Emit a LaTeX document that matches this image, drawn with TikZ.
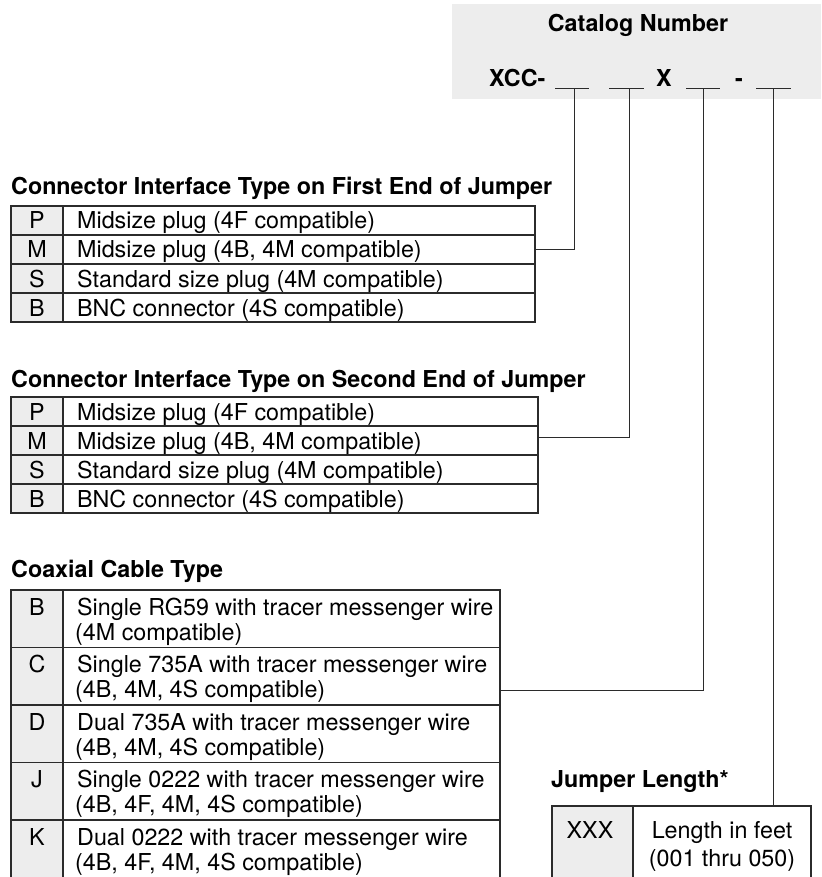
\documentclass[tikz,border=0pt]{standalone}
\usepackage{fontspec}
\setmainfont{TeX Gyre Heros}
\definecolor{cellgray}{HTML}{EDEDED}
\definecolor{linegray}{HTML}{2B2B2B}
\begin{document}
\begin{tikzpicture}[x=1pt,y=-1pt,
  grid/.style={draw=linegray, line width=1.1pt},
  wire/.style={draw=linegray, line width=1pt},
  txt/.style={font=\fontsize{23.3}{28}\selectfont, inner sep=0pt, anchor=base west},
  keytxt/.style={txt, anchor=base},
  head/.style={txt, font=\fontsize{23.3}{28}\selectfont\bfseries}]
\useasboundingbox (0,0) rectangle (821,877);

\fill[cellgray] (452,4) rectangle (821,99);
\node[head, anchor=base] (catalog) at (638,32) {Catalog Number};
\node[head] (xcc) at (489,87) {XCC-};
\node[head, anchor=base] (xmid) at (664,87) {X};
\node[head, anchor=base] (dash) at (739,87) {-};
\draw[wire] (555,89) -- (589,89);
\draw[wire] (609,89) -- (644,89);
\draw[wire] (686,89) -- (720,89);
\draw[wire] (756,89) -- (791,89);
\coordinate (blankA) at (574,89);
\coordinate (blankB) at (629,89);
\coordinate (blankC) at (703,89);
\coordinate (blankD) at (773,89);

\node[head] (firsthead) at (11,195) {Connector Interface Type on First End of Jumper};
\fill[cellgray] (11,206) rectangle (63,322);
\draw[grid] (11,206) rectangle (535,322);
\draw[grid] (63,206) -- (63,322);
\foreach \y in {235,264,293} \draw[grid] (11,\y) -- (535,\y);
\foreach \k/\d [count=\i] in {P/{Midsize plug (4F compatible)}, M/{Midsize plug (4B, 4M compatible)}, S/{Standard size plug (4M compatible)}, B/{BNC connector (4S compatible)}} {
  \node[keytxt] (firstkey\i) at (37,{206+29*\i-6}) {\k};
  \node[txt] (firstdesc\i) at (77,{206+29*\i-6}) {\d};
}
\coordinate (firstM) at (535,249);

\node[head] (secondhead) at (11,387) {Connector Interface Type on Second End of Jumper};
\fill[cellgray] (11,397) rectangle (63,513);
\draw[grid] (11,397) rectangle (538,513);
\draw[grid] (63,397) -- (63,513);
\foreach \y in {426,455,484} \draw[grid] (11,\y) -- (538,\y);
\foreach \k/\d [count=\i] in {P/{Midsize plug (4F compatible)}, M/{Midsize plug (4B, 4M compatible)}, S/{Standard size plug (4M compatible)}, B/{BNC connector (4S compatible)}} {
  \node[keytxt] (secondkey\i) at (37,{397+29*\i-6}) {\k};
  \node[txt] (seconddesc\i) at (77,{397+29*\i-6}) {\d};
}
\coordinate (secondM) at (538,437);

\node[head] (coaxhead) at (11,577) {Coaxial Cable Type};
\fill[cellgray] (11,590) rectangle (63,880);
\draw[grid] (11,880) -- (11,590) -- (500,590) -- (500,880);
\draw[grid] (63,590) -- (63,880);
\foreach \y in {647.5,705,762.5,820} \draw[grid] (11,\y) -- (500,\y);
\foreach \k/\a/\b [count=\i] in {B/{Single RG59 with tracer messenger wire}/{(4M compatible)}, C/{Single 735A with tracer messenger wire}/{(4B, 4M, 4S compatible)}, D/{Dual 735A with tracer messenger wire}/{(4B, 4M, 4S compatible)}, J/{Single 0222 with tracer messenger wire}/{(4B, 4F, 4M, 4S compatible)}, K/{Dual 0222 with tracer messenger wire}/{(4B, 4F, 4M, 4S compatible)}} {
  \node[keytxt] (coaxkey\i) at (37,{590+57.5*(\i-1)+25}) {\k};
  \node[txt] (coaxdesc\i) at (77,{590+57.5*(\i-1)+25}) {\a};
  \node[txt] (coaxnote\i) at (75,{590+57.5*(\i-1)+50}) {\b};
}
\coordinate (coaxC) at (500,690);

\node[head] (lenhead) at (551,787) {Jumper Length*};
\fill[cellgray] (552,806) rectangle (633,880);
\draw[grid] (552,880) -- (552,806) -- (811,806) -- (811,880);
\draw[grid] (633,806) -- (633,880);
\node[keytxt] (lenkey) at (590,838) {XXX};
\node[keytxt] (lendesc) at (722,838) {Length in feet};
\node[keytxt] (lenrange) at (722,866) {(001 thru 050)};
\coordinate (lentop) at (773,806);

\draw[wire] (blankA) |- (firstM);
\draw[wire] (blankB) |- (secondM);
\draw[wire] (blankC) |- (coaxC);
\draw[wire] (blankD) -- (lentop);
\end{tikzpicture}
\end{document}
